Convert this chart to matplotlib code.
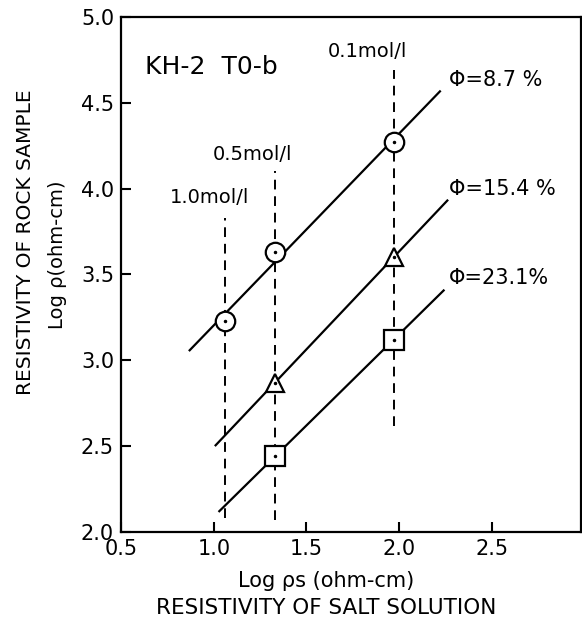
import numpy as np
import matplotlib
matplotlib.use("Agg")
from matplotlib import pyplot as plt

# measured points (log rho_s, log rho)
x_pts = [1.06, 1.33, 1.97]
circ_y = [3.23, 3.63, 4.27]     # phi = 8.7 %
tri_x = [1.33, 1.97]
tri_y = [2.87, 3.60]            # phi = 15.4 %
sq_x = [1.33, 1.97]
sq_y = [2.44, 3.12]             # phi = 23.1 %

# extent of the fitted lines
circ_span = [0.87, 2.22]
tri_span = [1.01, 2.26]
sq_span = [1.03, 2.24]

# salt concentration guide lines
conc_x = [1.06, 1.33, 1.97]
conc_top = [3.83, 4.10, 4.69]
conc_bot = [2.08, 2.07, 2.62]
conc_labels = ["1.0mol/l", "0.5mol/l", "0.1mol/l"]
conc_lab_xy = [(0.98, 3.95), (1.21, 4.20), (1.83, 4.80)]

phi_labels = ["Φ=8.7 %", "Φ=15.4 %", "Φ=23.1%"]
phi_lab_xy = [(2.27, 4.63), (2.27, 4.00), (2.27, 3.48)]

fig = plt.figure(figsize=(5.82, 6.27), dpi=100)
ax = fig.add_axes([0.208, 0.1515, 0.790, 0.8215])

lw = 1.6

# dashed concentration lines
for xc, yt, yb in zip(conc_x, conc_top, conc_bot):
	ax.plot([xc, xc], [yb, yt], color='black', lw=1.4, ls=(0, (5, 3.5)))
for lab, (lx, ly) in zip(conc_labels, conc_lab_xy):
	ax.text(lx, ly, lab, ha='center', va='center', fontsize=14)

# fitted lines
for xs, ys, span in [(x_pts, circ_y, circ_span), (tri_x, tri_y, tri_span), (sq_x, sq_y, sq_span)]:
	k, b = np.polyfit(xs, ys, 1)
	xx = np.array(span)
	ax.plot(xx, k * xx + b, color='black', lw=lw)

# markers
ms = 14
ax.plot(x_pts, circ_y, 'o', ms=ms, mfc='white', mec='black', mew=lw)
ax.plot(tri_x, tri_y, '^', ms=ms - 1, mfc='white', mec='black', mew=lw)
ax.plot(sq_x, sq_y, 's', ms=ms, mfc='white', mec='black', mew=lw)
ax.plot(x_pts + tri_x + sq_x, circ_y + tri_y + sq_y, '.', ms=3, color='black')

for lab, (lx, ly) in zip(phi_labels, phi_lab_xy):
	ax.text(lx, ly, lab, ha='left', va='center', fontsize=15)

ax.text(0.63, 4.71, "KH-2  T0-b", ha='left', va='center', fontsize=18)

ax.set_xlim(0.5, 2.98)
ax.set_ylim(2.0, 5.0)
ax.set_xticks([0.5, 1.0, 1.5, 2.0, 2.5])
ax.set_yticks([2.0, 2.5, 3.0, 3.5, 4.0, 4.5, 5.0])
ax.tick_params(direction='in', length=7, width=1.5, labelsize=15, pad=5,
	top=False, right=False)
for s in ax.spines.values():
	s.set_linewidth(1.6)

fig.text(0.56, 0.073, "Log ρs (ohm-cm)", ha='center', va='center', fontsize=15)
fig.text(0.56, 0.03, "RESISTIVITY OF SALT SOLUTION", ha='center', va='center', fontsize=15.5)
fig.text(0.043, 0.614, "RESISTIVITY OF ROCK SAMPLE", ha='center', va='center',
	rotation=90, fontsize=14.5)
fig.text(0.098, 0.593, "Log ρ(ohm-cm)", ha='center', va='center', rotation=90, fontsize=14)

fig.savefig("out.png", dpi=100)
